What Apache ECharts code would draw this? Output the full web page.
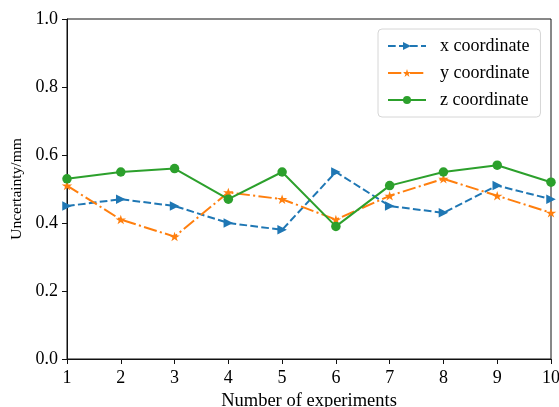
<!DOCTYPE html>
<html>
<head>
<meta charset="utf-8">
<script src="https://cdn.jsdelivr.net/npm/echarts@6/dist/echarts.min.js"></script>
<style>
  html, body { margin: 0; padding: 0; background: #fff; }
  #chart { width: 559px; height: 407px; }
</style>
</head>
<body>
<div id="chart"></div>
<script>
// Experiment index and the measured uncertainty (mm) per coordinate
const experiments = [1, 2, 3, 4, 5, 6, 7, 8, 9, 10];
const xCoord = [0.45, 0.47, 0.45, 0.40, 0.38, 0.55, 0.45, 0.43, 0.51, 0.47];
const yCoord = [0.51, 0.41, 0.36, 0.49, 0.47, 0.41, 0.48, 0.53, 0.48, 0.43];
const zCoord = [0.53, 0.55, 0.56, 0.47, 0.55, 0.39, 0.51, 0.55, 0.57, 0.52];
const yTicks = [0, 0.2, 0.4, 0.6, 0.8, 1.0];

const FONT = '"Liberation Serif", "Times New Roman", serif';
const STAR = 'path://M0,-100 L22.45,-30.9 L95.1,-30.9 L36.3,11.8 L58.8,80.9 L0,38.2 L-58.8,80.9 L-36.3,11.8 L-95.1,-30.9 L-22.45,-30.9 Z';

const pairs = vals => experiments.map((e, i) => [e, vals[i]]);

const chart = echarts.init(document.getElementById('chart'), null, { renderer: 'canvas' });

chart.setOption({
  animation: false,
  backgroundColor: '#fff',
  grid: {
    left: 67, right: 8, top: 19, bottom: 48,
    containLabel: false, outerBoundsMode: 'none',
    show: true, borderColor: '#111', borderWidth: 1, backgroundColor: 'transparent'
  },
  legend: {
    orient: 'vertical',
    left: 378, top: 29,
    padding: [8, 11, 8, 9],
    itemWidth: 38, itemHeight: 10, itemGap: 9,
    backgroundColor: '#fff',
    borderColor: '#d6d6d6', borderWidth: 1, borderRadius: 4,
    textStyle: { fontFamily: FONT, fontSize: 18, color: '#000', padding: [0, 0, 0, 9] },
    data: ['x coordinate', 'y coordinate', 'z coordinate']
  },
  xAxis: {
    type: 'value', min: 1, max: 10, interval: 1,
    name: 'Number of experiments', nameLocation: 'middle', nameGap: 31,
    nameTextStyle: { fontFamily: FONT, fontSize: 18.5, color: '#000' },
    axisLine: { show: true, lineStyle: { color: '#111', width: 1 } },
    axisTick: { show: true, inside: false, length: 5, lineStyle: { color: '#111' } },
    axisLabel: { fontFamily: FONT, fontSize: 18, color: '#000', margin: 10 },
    splitLine: { show: false }
  },
  yAxis: {
    type: 'value', min: yTicks[0], max: yTicks[yTicks.length - 1], interval: 0.2,
    name: 'Uncertainty/mm', nameLocation: 'middle', nameGap: 41,
    nameTextStyle: { fontFamily: FONT, fontSize: 15.5, color: '#000' },
    axisLine: { show: true, lineStyle: { color: '#111', width: 1 } },
    axisTick: { show: true, inside: false, length: 5, lineStyle: { color: '#111' } },
    axisLabel: { fontFamily: FONT, fontSize: 18, color: '#000', margin: 9,
                 formatter: v => v.toFixed(1) },
    splitLine: { show: false }
  },
  series: [
    {
      name: 'x coordinate', type: 'line', data: pairs(xCoord),
      symbol: 'triangle', symbolRotate: -90, symbolSize: 9.5,
      itemStyle: { color: '#1f77b4' },
      lineStyle: { color: '#1f77b4', width: 2, type: [7.7, 3.3] }
    },
    {
      name: 'y coordinate', type: 'line', data: pairs(yCoord),
      symbol: STAR, symbolSize: [10.5, 10], symbolKeepAspect: true,
      itemStyle: { color: '#ff7f0e' },
      lineStyle: { color: '#ff7f0e', width: 2, type: [13.3, 3.3, 2.1, 3.3] }
    },
    {
      name: 'z coordinate', type: 'line', data: pairs(zCoord),
      symbol: 'circle', symbolSize: 9.5,
      itemStyle: { color: '#2ca02c' },
      lineStyle: { color: '#2ca02c', width: 2, type: 'solid' }
    }
  ]
});
</script>
</body>
</html>
